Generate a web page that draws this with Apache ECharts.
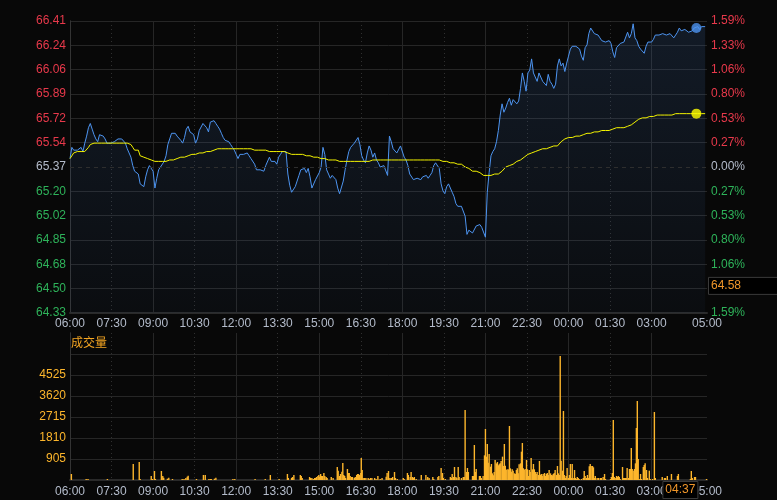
<!DOCTYPE html>
<html><head><meta charset="utf-8">
<script src="https://cdn.jsdelivr.net/npm/echarts@6/dist/echarts.min.js"></script>
<style>html,body{margin:0;padding:0;background:#080808;}#c{width:777px;height:500px;}</style>
</head><body><div id="c"></div>
<script>
// ---------- data ----------
const STEP = 4; // minutes between samples, minute 0 = 06:00
const prices = [
65.43,65.51,65.49,65.49,65.49,65.49,65.51,65.48,65.54,65.59,
65.65,65.68,65.64,65.60,65.57,65.55,65.60,65.61,65.59,65.57,
65.54,65.53,65.54,65.55,65.55,65.56,65.57,65.57,65.57,65.57,
65.54,65.50,65.47,65.44,65.38,65.34,65.34,65.32,65.25,65.25,
65.23,65.30,65.35,65.38,65.37,65.34,65.22,65.29,65.35,65.37,
65.38,65.41,65.45,65.53,65.57,65.61,65.60,65.61,65.59,65.60,
65.56,65.54,65.58,65.64,65.66,65.62,65.63,65.60,65.54,65.57,
65.63,65.63,65.68,65.69,65.65,65.62,65.69,65.70,65.70,65.68,
65.66,65.64,65.61,65.58,65.56,65.55,65.55,65.53,65.51,65.49,
65.46,65.43,65.46,65.45,65.46,65.46,65.47,65.45,65.43,65.42,
65.39,65.35,65.36,65.35,65.34,65.34,65.38,65.38,
65.44,65.41,65.41,65.41,65.39,65.44,65.46,65.48,65.48,65.48,
65.32,65.24,65.19,65.19,65.23,65.27,65.31,65.35,65.35,65.36,
65.33,65.36,65.30,65.22,65.23,65.28,65.29,65.33,65.37,65.51,
65.46,65.35,65.34,65.29,65.31,65.32,65.28,65.22,65.18,65.17,
65.27,65.35,65.42,65.48,65.51,65.51,65.54,65.53,65.58,65.53,
65.45,65.42,65.40,65.47,65.52,65.49,65.44,65.47,65.42,65.40,
65.37,65.38,65.38,65.38,65.31,65.59,65.55,65.50,65.51,65.47,
65.47,65.52,65.53,65.44,65.42,65.38,65.32,65.31,65.28,65.28,
65.29,65.28,65.28,65.30,65.30,65.31,65.29,65.31,65.33,65.38,
65.40,65.39,65.36,65.25,65.20,65.18,65.23,65.25,65.25,65.19,
65.16,65.11,65.09,65.10,65.09,65.10,65.02,64.89,64.92,64.93,
64.90,64.91,64.95,64.95,64.96,64.94,64.94,64.87,
65.19,65.33,65.45,65.48,65.50,65.55,65.63,65.74,65.82,
65.76,65.79,65.83,65.86,65.81,65.85,65.85,65.82,65.84,65.93,
66.04,65.98,65.91,66.04,66.06,66.14,66.04,66.04,65.98,66.04,
66.04,65.98,65.99,65.95,66.03,65.98,65.96,65.93,65.96,66.09,
66.14,66.09,66.11,66.05,66.11,66.16,66.21,66.23,66.23,66.23,
66.23,66.21,66.16,66.13,66.22,66.24,66.32,66.36,66.35,66.32,
66.31,66.31,66.29,66.27,66.27,66.26,66.25,66.27,66.25,66.19,
66.15,66.22,66.21,66.25,66.25,66.26,66.26,66.33,66.29,66.32,
66.39,66.29,66.27,66.23,66.21,66.21,66.18,66.23,66.26,66.27,
66.26,66.28,66.31,66.31,66.31,66.31,66.32,66.32,66.31,66.31,
66.32,66.31,66.29,66.31,66.33,66.36,66.34,66.34,66.35,66.34,
66.33,66.32,66.34,66.36,66.36,66.37,66.35,66.37,66.38,66.37
];
const avgPrices = [
65.43,65.44,65.47,65.48,65.48,65.48,65.48,65.48,65.48,65.48,
65.51,65.53,65.54,65.54,65.54,65.54,65.54,65.54,65.54,65.54,
65.54,65.54,65.54,65.54,65.54,65.54,65.54,65.54,65.54,65.54,
65.54,65.54,65.54,65.53,65.51,65.49,65.49,65.49,65.45,65.44,
65.44,65.43,65.43,65.43,65.42,65.42,65.41,65.41,65.41,65.41,
65.41,65.41,65.41,65.41,65.42,65.42,65.42,65.43,65.43,65.43,
65.44,65.44,65.44,65.45,65.45,65.45,65.46,65.46,65.46,65.46,
65.47,65.47,65.47,65.47,65.48,65.48,65.48,65.49,65.49,65.50,
65.50,65.50,65.50,65.50,65.50,65.50,65.50,65.50,65.50,65.50,
65.50,65.50,65.50,65.50,65.50,65.50,65.50,65.50,65.50,65.50,
65.49,65.49,65.49,65.49,65.49,65.49,65.49,65.49,
65.48,65.48,65.48,65.48,65.48,65.48,65.48,65.48,65.48,65.47,
65.47,65.47,65.46,65.46,65.46,65.46,65.46,65.46,65.46,65.45,
65.45,65.45,65.45,65.44,65.44,65.44,65.44,65.43,65.43,65.43,
65.43,65.43,65.42,65.42,65.42,65.42,65.42,65.42,65.41,65.41,
65.41,65.41,65.41,65.41,65.41,65.41,65.41,65.41,65.41,65.41,
65.41,65.41,65.41,65.41,65.41,65.42,65.42,65.42,65.42,65.42,
65.42,65.42,65.42,65.42,65.42,65.42,65.42,65.42,65.42,65.42,
65.42,65.42,65.42,65.42,65.42,65.42,65.42,65.42,65.42,65.42,
65.42,65.42,65.42,65.42,65.42,65.42,65.42,65.42,65.42,65.42,
65.42,65.42,65.42,65.41,65.41,65.41,65.41,65.40,65.40,65.40,
65.40,65.40,65.39,65.39,65.39,65.38,65.37,65.36,65.36,65.36,
65.34,65.34,65.34,65.33,65.33,65.32,65.31,65.30,
65.31,65.31,65.31,65.31,65.32,65.32,65.32,65.33,65.34,
65.35,65.37,65.37,65.38,65.39,65.39,65.40,65.41,65.41,65.42,
65.43,65.44,65.45,65.46,65.47,65.47,65.48,65.48,65.49,65.49,
65.50,65.50,65.50,65.50,65.51,65.51,65.51,65.52,65.52,65.52,
65.53,65.55,65.56,65.57,65.57,65.58,65.58,65.58,65.58,65.59,
65.59,65.59,65.59,65.60,65.60,65.61,65.61,65.61,65.62,65.62,
65.62,65.62,65.62,65.63,65.63,65.63,65.63,65.63,65.64,65.64,
65.64,65.65,65.65,65.65,65.65,65.65,65.66,65.66,65.66,65.67,
65.68,65.69,65.70,65.71,65.71,65.72,65.72,65.72,65.72,65.73,
65.73,65.73,65.73,65.74,65.74,65.74,65.74,65.74,65.74,65.74,
65.74,65.74,65.74,65.75,65.75,65.75,65.75,65.75,65.75,65.75,
65.75,65.75,65.75,65.75,65.75,65.75,65.75,65.75,65.75,65.75
];
// [minute since 06:00, volume]
const volumeBars = [
[3,259],[35,43],[39,43],[81,43],[137,690],[150,776],[152,43],[176,172],[179,43],[183,388],[185,43],[198,388],[201,172],[203,101],[211,57],[214,101],[222,43],[243,43],[247,43],[251,86],[254,144],[256,187],[274,43],[289,216],[293,216],[301,43],[304,43],[306,43],[313,57],[316,101],[353,43],[357,43],[401,43],[423,43],[434,216],[453,43],[471,259],[473,86],[480,86],[482,129],[485,216],[499,216],[501,172],[503,86],[519,129],[521,86],[524,86],[527,43],[530,86],[532,86],[534,129],[537,172],[539,216],[541,144],[543,259],[545,172],[547,172],[550,302],[552,172],[555,129],[557,86],[566,129],[570,86],[579,560],[581,402],[584,172],[586,259],[589,359],[591,733],[593,216],[595,172],[597,86],[601,474],[603,302],[605,302],[607,172],[610,129],[612,129],[616,86],[618,129],[621,216],[623,259],[625,259],[627,216],[630,302],[631,948],[633,431],[635,86],[638,86],[641,86],[646,86],[648,43],[651,86],[654,86],[660,86],[663,43],[667,172],[672,43],[676,86],[685,144],[687,302],
[690,388],[693,86],[696,86],[699,129],[703,345],[705,86],[709,43],[722,86],[724,43],[731,302],[733,216],[737,129],[739,345],[742,129],[744,86],[746,129],[750,43],[761,216],[771,216],[775,129],[778,86],[786,129],[788,43],[797,129],[799,172],[804,517],[807,302],[809,86],[813,43],[824,129],[826,86],[828,259],[831,129],[833,560],[836,129],[838,86],[841,560],[843,129],[848,86],[852,129],[854,129],[856,3018],[859,345],[861,517],[863,345],[872,172],[874,172],[876,1509],[878,345],[880,474],[887,172],[889,172],[891,86],[895,172],[898,1063],[900,2199],[902,1006],[904,1552],[906,747],[908,1121],[911,575],[913,690],[915,287],[917,201],[919,345],[921,862],[924,718],[926,776],[928,632],[930,675],[932,718],[934,819],[937,1006],[939,603],[941,1552],[943,618],[945,431],[947,460],[950,460],[952,2328],[954,503],[956,359],[958,460],[960,402],[963,287],[965,259],[967,431],[969,503],[971,287],[973,675],[976,718],[978,1221],[980,1595],[982,503],[984,431],[986,474],[989,862],[991,460],[993,172],[995,431],[997,345],[999,948],[1002,460],[1004,690],[1006,460],[1008,345],[1010,259],[1012,345],[1015,216],[1017,819],[1019,216],[1021,259],[1023,172],[1025,259],[1028,302],[1030,172],[1032,259],[1034,302],[1036,216],[1038,431],[1041,287],[1043,216],[1045,201],[1047,259],[1049,302],[1051,431],[1054,216],[1056,603],[1058,287],[1060,216],[1062,5345],[1064,833],[1067,402],[1069,2974],[1071,216],[1073,86],[1075,172],[1077,517],[1080,86],[1082,216],[1084,690],[1086,86],[1088,690],[1090,86],[1093,431],[1095,86],[1097,43],[1099,129],[1101,86],[1103,43],[1108,43],[1112,86],[1114,388],[1116,172],[1119,86],[1121,216],[1123,86],[1125,589],[1127,690],[1129,603],[1132,603],[1134,546],[1136,86],[1138,172],[1142,86],[1145,86],[1149,86],[1151,86],[1155,129],[1158,259],[1160,43],[1171,43],[1173,129],[1175,302],[1177,2587],[1179,129],[1181,86],[1184,172],[1186,129],[1188,172],[1190,129],[1192,43],[1197,560],[1199,86],[1201,86],[1203,86],[1205,86],[1207,517],[1210,86],[1212,474],[1214,474],[1216,1380],[1218,474],[1220,402],[1223,474],[1225,718],[1227,2242],[1229,3406],[1231,905],[1233,43],[1236,259],[1238,43],[1242,560],[1244,647],[1246,718],[1249,431],[1251,86],[1255,402],[1257,43],[1262,43],[1266,2931],[1268,86],[1283,129],[1288,86],[1290,86],[1294,172],[1303,259],[1316,172],[1318,259],[1344,43],[1346,388],[1348,86],[1353,129],[1355,129],[1379,43]
];
const priceLabels = ['64.33','64.50','64.68','64.85','65.02','65.20','65.37','65.54','65.72','65.89','66.06','66.24','66.41'];
const pctLabels = ['1.59%','1.33%','1.06%','0.80%','0.53%','0.27%','0.00%','0.27%','0.53%','0.80%','1.06%','1.33%','1.59%'];
const timeTicks = [0,90,180,270,360,450,540,630,720,810,900,990,1080,1170,1260,1380];
const timeLabels = ['06:00','07:30','09:00','10:30','12:00','13:30','15:00','16:30','18:00','19:30','21:00','22:30','00:00','01:30','03:00','05:00'];
const solidTimes = [180,360,540,720,900,1080,1260];
const dottedTimes = [90,270,450,630,810,990,1170];
const volLabels = ['','905','1810','2715','3620','4525','',''];
const PRICE_MIN = 64.33, PRICE_MAX = 66.41, PRE_CLOSE = 65.37;
const VOL_STEP = 905, VOL_MAX = 6335;
const cursorMinute = 1357, cursorTime = '04:37', cursorPrice = 64.58;

// ---------- chart ----------
const PRICE_STEP = (PRICE_MAX - PRICE_MIN) / 12;
const RED = '#e8394b', GREEN = '#2eb35a', NEUTRAL = '#b4bccb', ORANGE = '#f5a623', VOLC = '#fdb62c';
const BLUE = '#4d94f0', YELLOW = '#f4f400';
const GRIDC = '#262626', DOTC = '#303030', AXC = '#333';
const FONT = 'Arial, "Liberation Sans", sans-serif';
const pIdx = v => Math.round((parseFloat(v) - PRICE_MIN) / PRICE_STEP);
const pColor = i => i > 6 ? RED : (i < 6 ? GREEN : NEUTRAL);

const priceData = prices.map((p, i) => [i * STEP, p]);
const avgData = avgPrices.map((p, i) => [i * STEP, p]);
const cIdx = Math.min(prices.length - 1, Math.floor(cursorMinute / STEP));

const splitColors = priceLabels.map((_, i) => i === 6 ? 'rgba(0,0,0,0)' : GRIDC);
const volSplitColors = volLabels.map((_, i) => i === volLabels.length - 1 ? 'rgba(0,0,0,0)' : GRIDC);

function xAxisPair(gridIndex, withLabels, margin) {
  return [{
    type: 'value', gridIndex, min: 0, max: 1380,
    axisLine: { show: true, onZero: false, lineStyle: { color: '#2a2a2a', width: 2 } },
    axisTick: { show: false, customValues: solidTimes },
    axisLabel: { show: withLabels, customValues: timeTicks, margin, color: NEUTRAL, fontSize: 12, fontFamily: FONT,
      formatter: v => { const i = timeTicks.indexOf(Math.round(v)); return i >= 0 ? timeLabels[i] : ''; } },
    splitLine: { show: true, lineStyle: { color: GRIDC, width: 1 } }
  }, {
    type: 'value', gridIndex, min: 0, max: 1380,
    axisLine: { show: false }, axisLabel: { show: false },
    axisTick: { show: false, customValues: dottedTimes },
    splitLine: { show: true, lineStyle: { color: DOTC, width: 1, type: [1, 3] } }
  }];
}

const chart = echarts.init(document.getElementById('c'), null, { renderer: 'canvas' });
const option = {
  animation: false,
  backgroundColor: '#080808',
  grid: [
    { left: 70, right: 70, top: 21, bottom: 187 },
    { left: 70, right: 70, top: 333, bottom: 20 }
  ],
  xAxis: [...xAxisPair(0, true, 5), ...xAxisPair(1, true, 6)],
  yAxis: [
    { type: 'value', gridIndex: 0, min: PRICE_MIN, max: PRICE_MAX, interval: PRICE_STEP, position: 'left',
      axisLine: { show: true, lineStyle: { color: AXC } }, axisTick: { show: false },
      axisLabel: { margin: 4, fontSize: 12, fontFamily: FONT, formatter: v => priceLabels[pIdx(v)] || '', color: v => pColor(pIdx(v)) },
      splitLine: { show: true, lineStyle: { color: splitColors } } },
    { type: 'value', gridIndex: 0, min: PRICE_MIN, max: PRICE_MAX, interval: PRICE_STEP, position: 'right',
      axisLine: { show: true, lineStyle: { color: AXC } }, axisTick: { show: false },
      axisLabel: { margin: 4, fontSize: 12, fontFamily: FONT, formatter: v => pctLabels[pIdx(v)] || '', color: v => pColor(pIdx(v)) },
      splitLine: { show: false } },
    { type: 'value', gridIndex: 1, min: 0, max: VOL_MAX, interval: VOL_STEP, position: 'left',
      axisLine: { show: true, lineStyle: { color: AXC } }, axisTick: { show: false },
      axisLabel: { margin: 4, fontSize: 12, fontFamily: FONT, color: VOLC, formatter: v => volLabels[Math.round(v / VOL_STEP)] || '' },
      splitLine: { show: true, lineStyle: { color: volSplitColors } } },
    { type: 'value', gridIndex: 1, min: 0, max: VOL_MAX, interval: VOL_STEP, position: 'right',
      axisLine: { show: true, lineStyle: { color: AXC } }, axisTick: { show: false }, axisLabel: { show: false },
      splitLine: { show: false } }
  ],
  series: [
    { type: 'line', name: 'price', xAxisIndex: 0, yAxisIndex: 0, data: priceData, showSymbol: false, silent: true,
      lineStyle: { color: BLUE, width: 1 },
      areaStyle: { origin: 'start', color: new echarts.graphic.LinearGradient(0, 21, 0, 313, [
        { offset: 0, color: 'rgba(58,98,155,0.30)' }, { offset: 1, color: 'rgba(58,98,155,0.08)' }], true) },
      markLine: { silent: true, symbol: 'none', label: { show: false },
        lineStyle: { color: '#2e2e2e', type: [4, 4], width: 1 }, data: [{ yAxis: PRE_CLOSE }] },
      z: 3 },
    { type: 'line', name: 'avg', xAxisIndex: 0, yAxisIndex: 0, data: avgData, showSymbol: false, silent: true,
      lineStyle: { color: YELLOW, width: 1 }, z: 4 },
    { type: 'scatter', xAxisIndex: 0, yAxisIndex: 0, silent: true, symbolSize: 10, z: 6,
      data: [{ value: [cursorMinute, prices[cIdx]], itemStyle: { color: BLUE } },
             { value: [cursorMinute, avgPrices[cIdx]], itemStyle: { color: '#ffff00' } }] },
    { type: 'bar', name: 'volume', xAxisIndex: 2, yAxisIndex: 2, data: volumeBars, barWidth: 1.4, silent: true,
      itemStyle: { color: VOLC } }
  ]
};
chart.setOption(option);

const cx = chart.convertToPixel({ xAxisIndex: 2 }, cursorMinute);
const cy = chart.convertToPixel({ yAxisIndex: 0 }, cursorPrice);
chart.setOption({
  graphic: [
    { type: 'text', left: 71, top: 336, z: 10, style: { text: '成交量', fill: ORANGE, font: '12px "Noto Sans CJK SC", sans-serif' } },
    { type: 'rect', z: 20, shape: { x: 708.5, y: cy - 0.5, width: 70, height: 17 }, style: { fill: '#000', stroke: '#3a3a3a', lineWidth: 1 } },
    { type: 'text', z: 21, x: 711, y: cy + 8, style: { text: cursorPrice.toFixed(2), fill: '#f0962a', font: '12px ' + FONT, verticalAlign: 'middle' } },
    { type: 'rect', z: 20, shape: { x: cx - 33.5, y: 481.5, width: 35, height: 17 }, style: { fill: '#000', stroke: '#3a3a3a', lineWidth: 1 } },
    { type: 'text', z: 21, x: cx - 16, y: 490, style: { text: cursorTime, fill: '#f0962a', font: '12px ' + FONT, align: 'center', verticalAlign: 'middle' } }
  ]
});
</script></body></html>
